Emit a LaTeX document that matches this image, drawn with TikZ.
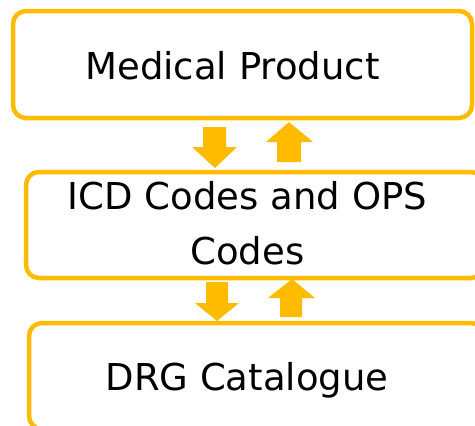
\documentclass[tikz,border=0pt]{standalone}
\usepackage{fontspec}
\setmainfont{DejaVu Sans}
\definecolor{gold}{RGB}{255,187,0}
\begin{document}
\begin{tikzpicture}[x=1pt,y=-1pt,
  box/.style={draw=gold, line width=4.5pt, rounded corners=13pt, inner sep=0pt, outer sep=0pt, fill=white},
  lbl/.style={font=\fontsize{37}{55}\selectfont, inner sep=0pt, anchor=base, align=center},
  blk/.style={fill=gold, draw=none}]
\useasboundingbox (0,0) rectangle (475,426);
\node[box, minimum width=459pt, minimum height=107pt] (b1) at (242.5,64.5) {};
\node[box, minimum width=458pt, minimum height=106pt] (b2) at (255,225) {};
\node[box, minimum width=455pt, minimum height=106pt] (b3) at (256.5,376) {};
\node[lbl] (t1) at (232.5,79.5) {Medical Product};
\node[lbl] (t2) at (247.5,264) {ICD Codes and OPS\\Codes};
\node[lbl] (t3) at (247,390) {DRG Catalogue};
\fill[blk] (203,127) -- (226,127) -- (226,147) -- (237,147) -- (215,168) -- (192,147) -- (203,147) -- cycle;
\fill[blk] (277,162) -- (301,162) -- (301,142) -- (313,142) -- (289,122) -- (266,142) -- (277,142) -- cycle;
\fill[blk] (206,282) -- (228,282) -- (228,303) -- (239,303) -- (217,321) -- (195,303) -- (206,303) -- cycle;
\fill[blk] (280,317) -- (302,317) -- (302,298) -- (315,298) -- (292,279) -- (268,298) -- (280,298) -- cycle;
\end{tikzpicture}
\end{document}
